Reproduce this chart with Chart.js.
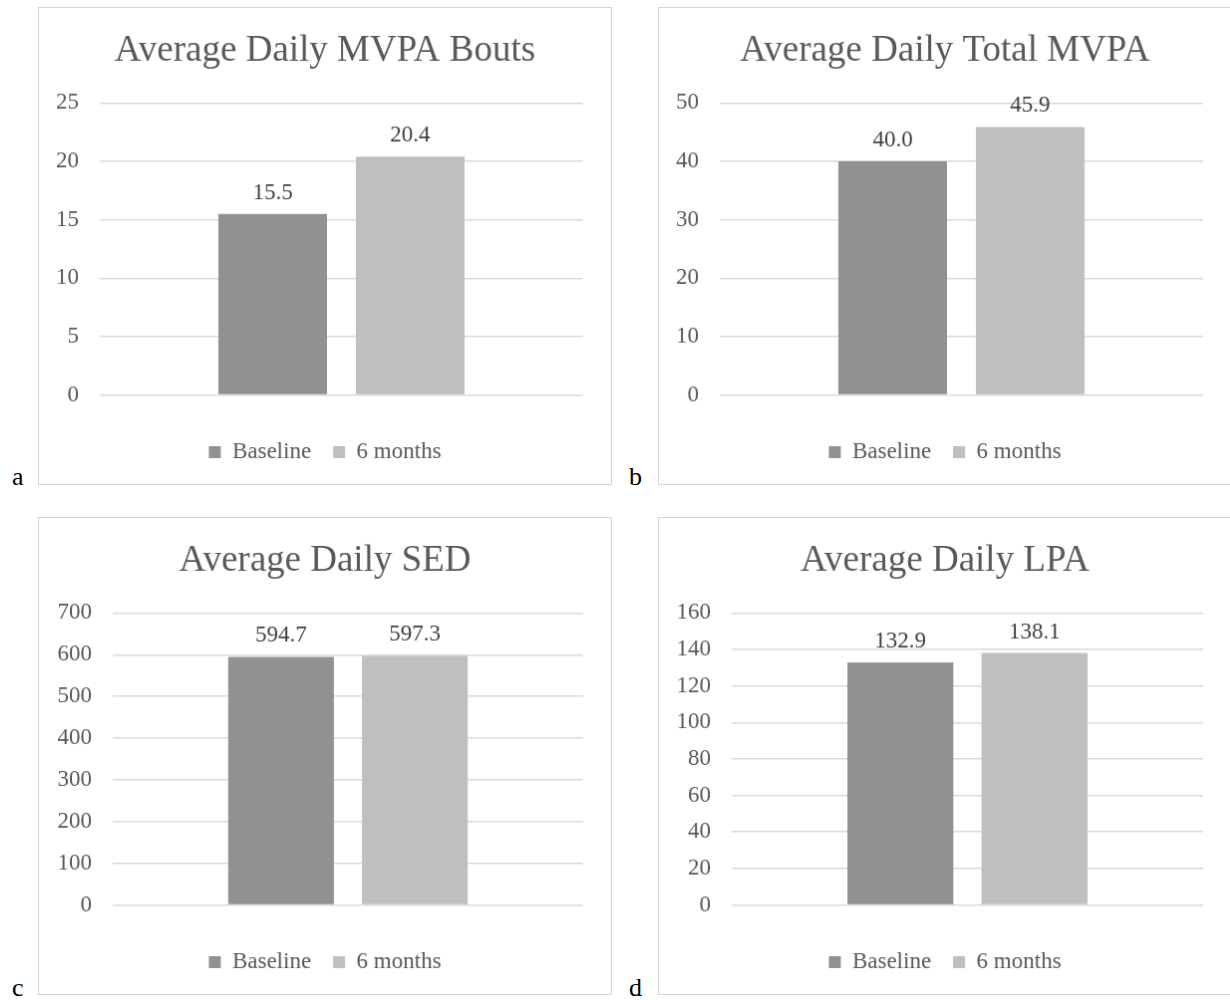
<!DOCTYPE html>
<html lang="en">
<head>
  <meta charset="UTF-8">
  <title>Average Daily Activity</title>
  <script src="https://cdn.jsdelivr.net/npm/chart.js"></script>
  <style>
    body { margin: 0; background: #fff; font-family: "Liberation Serif", "Times New Roman", serif; }
    .panel { position: absolute; border: 1px solid #d4d4d4; }
    .tag { position: absolute; font-size: 26px; line-height: 1; color: #000; }
  </style>
</head>
<body>
  <canvas id="chartA" class="panel" width="574" height="478" style="left:38px; top:7px;"></canvas>
  <canvas id="chartB" class="panel" width="574" height="478" style="left:658px; top:7px;"></canvas>
  <canvas id="chartC" class="panel" width="574" height="478" style="left:38px; top:517px;"></canvas>
  <canvas id="chartD" class="panel" width="574" height="478" style="left:658px; top:517px;"></canvas>
  <div class="tag" style="left:12px; top:464px;">a</div>
  <div class="tag" style="left:629px; top:464px;">b</div>
  <div class="tag" style="left:12px; top:975px;">c</div>
  <div class="tag" style="left:629px; top:975px;">d</div>

  <script>
    // data
    const seriesNames = ["Baseline", "6 months"];
    const chartTitles = ["Average Daily MVPA Bouts", "Average Daily Total MVPA", "Average Daily SED", "Average Daily LPA"];
    const baselineValues = [15.5, 40.0, 594.7, 132.9];
    const sixMonthValues = [20.4, 45.9, 597.3, 138.1];
    const axisMax = [25, 50, 700, 160];
    const axisStep = [5, 10, 100, 20];

    // layout per panel (canvas px)
    const canvasIds = ["chartA", "chartB", "chartC", "chartD"];
    const plotLeft = [61, 61, 74, 73];
    const plotRightGap = 28;

    const FONT = "Liberation Serif";
    const TEXT = "#595959";

    // value labels above bars
    const barLabels = {
      id: "barLabels",
      afterDatasetsDraw(chart) {
        const ctx = chart.ctx;
        ctx.save();
        ctx.font = "23px '" + FONT + "'";
        ctx.fillStyle = "#404040";
        ctx.textAlign = "center";
        ctx.textBaseline = "alphabetic";
        chart.data.datasets.forEach((ds, i) => {
          chart.getDatasetMeta(i).data.forEach((bar, j) => {
            ctx.fillText(ds.data[j].toFixed(1), bar.x, bar.y - 15);
          });
        });
        ctx.restore();
      }
    };

    function makeChart(idx) {
      const ctx = document.getElementById(canvasIds[idx]).getContext("2d");
      return new Chart(ctx, {
        type: "bar",
        data: {
          labels: [""],
          datasets: [
            { label: seriesNames[0], data: [baselineValues[idx]], backgroundColor: "#919191", borderWidth: 0 },
            { label: seriesNames[1], data: [sixMonthValues[idx]], backgroundColor: "#bfbfbf", borderWidth: 0 }
          ]
        },
        options: {
          responsive: false,
          animation: false,
          categoryPercentage: 0.569,
          barPercentage: 0.79,
          layout: { padding: { left: 0, right: 0, top: 0, bottom: 10.5 } },
          plugins: {
            title: {
              display: true,
              text: chartTitles[idx],
              color: TEXT,
              font: { family: FONT, size: 37, weight: "normal" },
              padding: { top: 21, bottom: 30 }
            },
            legend: {
              position: "bottom",
              labels: {
                color: TEXT,
                font: { family: FONT, size: 23 },
                boxWidth: 12,
                boxHeight: 12,
                padding: 22
              }
            },
            tooltip: { enabled: false }
          },
          scales: {
            x: {
              grid: { display: false },
              border: { display: false },
              ticks: { display: false },
              afterFit(scale) { scale.height = 24; }
            },
            y: {
              min: 0,
              max: axisMax[idx],
              ticks: {
                stepSize: axisStep[idx],
                color: TEXT,
                padding: 21,
                font: { family: FONT, size: 23 }
              },
              grid: { color: "#d9d9d9", lineWidth: 1.5, drawTicks: false },
              border: { display: false },
              afterFit(scale) { scale.width = plotLeft[idx]; }
            },
            // empty right axis, only keeps the right margin of the plot
            yRight: {
              position: "right",
              grid: { display: false },
              border: { display: false },
              ticks: { display: false },
              afterFit(scale) { scale.width = plotRightGap; }
            }
          }
        },
        plugins: [barLabels]
      });
    }

    canvasIds.forEach((id, i) => makeChart(i));
  </script>
</body>
</html>
